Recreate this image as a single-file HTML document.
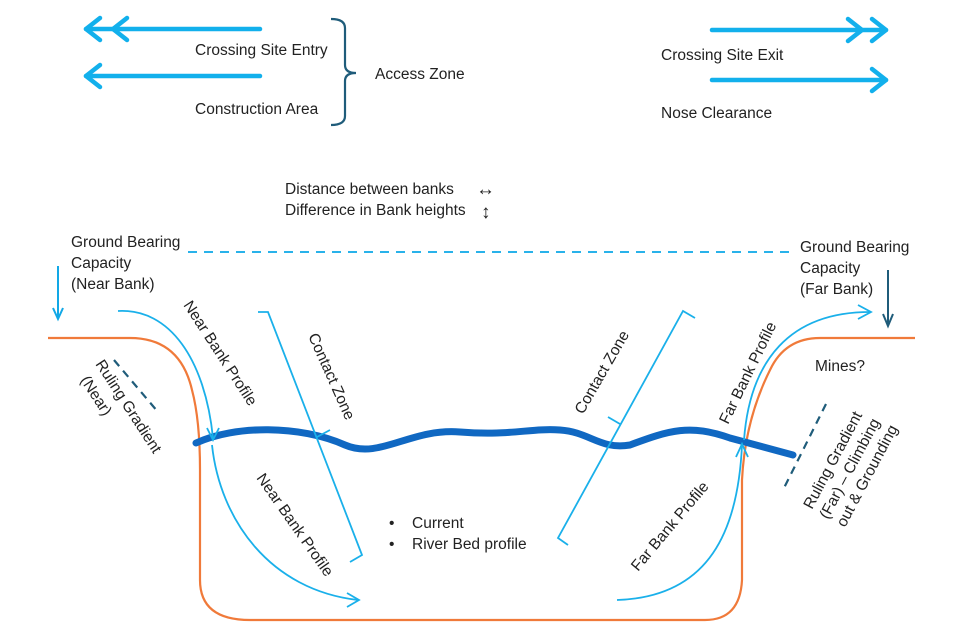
<!DOCTYPE html>
<html><head><meta charset="utf-8"><style>
html,body{margin:0;padding:0;background:#fff;width:960px;height:640px;overflow:hidden}
svg text{font-family:"Liberation Sans",Arial,sans-serif;font-size:15.5px;fill:#222}
</style></head><body>
<svg width="960" height="640" viewBox="0 0 960 640" xmlns="http://www.w3.org/2000/svg">
<g stroke="#12b0ec" stroke-width="4.5" fill="none" stroke-linecap="round" stroke-linejoin="round">
<line x1="260" y1="29" x2="86" y2="29"/>
<polyline points="100,18 86,29 100,40"/>
<polyline points="127,18 113,29 127,40"/>
<line x1="260" y1="76" x2="86" y2="76"/>
<polyline points="100,65 86,76 100,87"/>
<line x1="712" y1="30" x2="886" y2="30"/>
<polyline points="872,19 886,30 872,41"/>
<polyline points="848,19 862,30 848,41"/>
<line x1="712" y1="80" x2="886" y2="80"/>
<polyline points="872,69 886,80 872,91"/>
</g>
<path d="M331 19 Q345 19 345 28 L345 65 Q345 73 356 73 Q345 73 345 81 L345 116 Q345 125 331 125" stroke="#1f5c7a" stroke-width="2.2" fill="none"/>
<text x="195" y="55">Crossing Site Entry</text>
<text x="195" y="114">Construction Area</text>
<text x="375" y="79">Access Zone</text>
<text x="661" y="60">Crossing Site Exit</text>
<text x="661" y="118">Nose Clearance</text>
<text x="285" y="194">Distance between banks</text>
<text x="285" y="215">Difference in Bank heights</text>
<text x="476" y="195" style="font-size:19px">↔</text>
<text x="481" y="218" style="font-size:19px">↕</text>
<line x1="188" y1="252" x2="792" y2="252" stroke="#29b2ea" stroke-width="2" stroke-dasharray="9,7"/>
<text x="71" y="247">Ground Bearing</text>
<text x="71" y="268">Capacity</text>
<text x="71" y="289">(Near Bank)</text>
<text x="800" y="252">Ground Bearing</text>
<text x="800" y="273">Capacity</text>
<text x="800" y="294">(Far Bank)</text>
<g stroke="#12a8e6" stroke-width="2" fill="none">
<line x1="58" y1="266" x2="58" y2="318"/>
<polyline points="53,308 58,319 63,308"/>
</g>
<g stroke="#1f5c7a" stroke-width="2" fill="none">
<line x1="888" y1="270" x2="888" y2="325"/>
<polyline points="883,314 888,326 893,314"/>
</g>
<path d="M48 338 L130 338 Q180 338 192 390 Q200 420 200 470 L200 580 Q200 620 250 620 L705 620 Q740 620 742 580 L742 480 Q745 420 770 370 Q785 338 820 338 L915 338" stroke="#f07a3a" stroke-width="2.2" fill="none"/>
<g stroke="#1f5c7a" stroke-width="2.2" stroke-dasharray="8,6" fill="none">
<line x1="114" y1="360" x2="158" y2="412"/>
<line x1="826" y1="404" x2="784" y2="488"/>
</g>
<path d="M196 443 C235 425 300 425 345 445 C380 460 410 428 460 432 C510 436 530 428 560 430 C590 432 600 450 630 445 C670 430 690 424 730 438 L793 455" stroke="#1068c2" stroke-width="7" fill="none" stroke-linecap="round"/>
<g stroke="#1ab0ea" stroke-width="1.8" fill="none">
<path d="M118 311 C170 308 205 360 213 438"/>
<polyline points="207,428 213,440 219,428"/>
<path d="M212 445 C220 520 270 590 358 600"/>
<polyline points="347,593 359,600 347,607"/>
<polyline points="258,312 268,312 362,555 350,562"/>
<line x1="317" y1="437" x2="330" y2="430"/>
<polyline points="695,318 683,311 558,538 568,545"/>
<line x1="608" y1="417" x2="620" y2="424"/>
<path d="M617 600 C710 597 738 530 742 445"/>
<polyline points="736,457 742,444 748,457"/>
<path d="M744 440 C750 360 790 312 870 312"/>
<polyline points="858,305 871,312 858,319"/>
</g>
<text transform="translate(183,305) rotate(57)">Near Bank Profile</text>
<text transform="translate(308,336) rotate(66)">Contact Zone</text>
<text transform="translate(256,478) rotate(55)">Near Bank Profile</text>
<text transform="translate(95,364) rotate(57)">Ruling Gradient</text>
<text transform="translate(80,380) rotate(57)">(Near)</text>
<text transform="translate(583,415) rotate(-60)">Contact Zone</text>
<text transform="translate(728,425) rotate(-64)">Far Bank Profile</text>
<text transform="translate(638,572) rotate(-50)">Far Bank Profile</text>
<text x="815" y="371">Mines?</text>
<text transform="translate(812,510) rotate(-62)">Ruling Gradient</text>
<text transform="translate(828,520) rotate(-62)">(Far) – Climbing</text>
<text transform="translate(845,528) rotate(-62)">out &amp; Grounding</text>
<text x="389" y="528">•</text>
<text x="412" y="528">Current</text>
<text x="389" y="549">•</text>
<text x="412" y="549">River Bed profile</text>
</svg>
</body></html>
